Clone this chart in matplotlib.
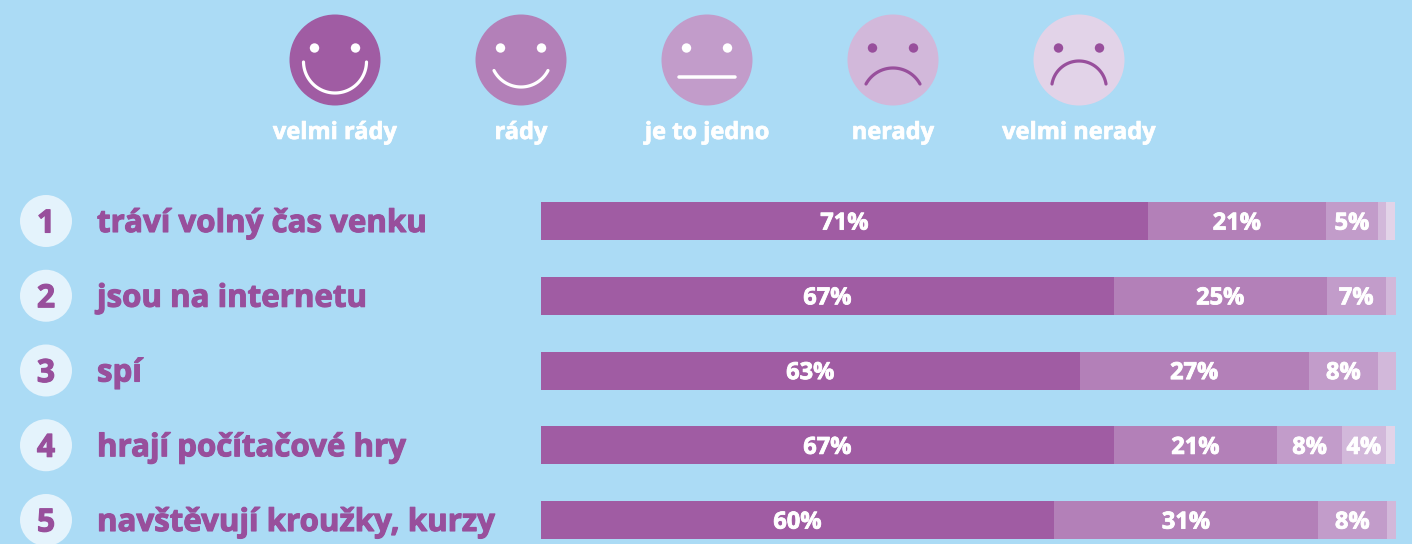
import numpy as np
import matplotlib
matplotlib.use("Agg")
import matplotlib.pyplot as plt
import matplotlib.patheffects as pe
from matplotlib.patches import Circle

W, H = 1412, 544
BG = "#ABDBF5"
PURPLE = "#984F9C"
FONT = "Open Sans"

categories = ["tráví volný čas venku", "jsou na internetu", "spí",
              "hrají počítačové hry", "navštěvují kroužky, kurzy"]
ranks = ["1", "2", "3", "4", "5"]
legend_labels = ["velmi rády", "rády", "je to jedno", "nerady", "velmi nerady"]
colors = ["#A05CA3", "#B380B8", "#C29CCA", "#D2B8DA", "#E2D3E8"]

# segment widths as drawn (percent)
velmi_rady = [71, 67, 63, 67, 60]
rady = [20.8, 24.9, 26.8, 19.1, 30.9]
jedno = [6.1, 6.9, 8.1, 7.6, 8]
nerady = [0.9, 1.2, 2.1, 5.1, 1.1]
velmi_nerady = [1.1, 0, 0, 1.1, 0]
series = [velmi_rady, rady, jedno, nerady, velmi_nerady]

# printed labels (percent text, None = no label)
label_rows = [
    ["71%", "21%", "5%", None, None],
    ["67%", "25%", "7%", None, None],
    ["63%", "27%", "8%", None, None],
    ["67%", "21%", "8%", "4%", None],
    ["60%", "31%", "8%", None, None],
]


def heavy(color, w=0.6):
    return [pe.withStroke(linewidth=w, foreground=color)]


fig = plt.figure(figsize=(W / 100, H / 100), dpi=100, facecolor=BG)

# pixel-space overlay for pictograms and row titles
deco = fig.add_axes([0, 0, 1, 1], facecolor="none")
deco.set_xlim(0, W)
deco.set_ylim(H, 0)
deco.axis("off")

# bar axes: x in percent, y in rows
row0, row_step = 221, 74.75
bar_left, bar_right = 541, 1396
ax = fig.add_axes([bar_left / W, 0, (bar_right - bar_left) / W, 1], facecolor="none")
ax.set_xlim(0, 100)
ax.set_ylim((H - row0) / row_step, -row0 / row_step)
ax.axis("off")

lw_px = 72 / 100
left = np.zeros(len(categories))
for s, values in enumerate(series):
    values = np.array(values, dtype=float)
    ax.barh(range(len(categories)), values, left=left, height=38 / row_step,
            color=colors[s], linewidth=0)
    for r, v in enumerate(values):
        t = label_rows[r][s]
        if t:
            ax.text(left[r] + v / 2, r + 0.035, t, ha="center", va="center",
                    color="white", fontsize=17, fontweight="bold", family=FONT,
                    path_effects=heavy("white"))
    left += values

# row titles and number badges
for r, (n, c) in enumerate(zip(ranks, categories)):
    y = row0 + r * row_step
    deco.add_patch(Circle((46, y), 26, fc="#E4F3FC", ec="none"))
    deco.text(46, y + 3, n, ha="center", va="center", color=PURPLE,
              fontsize=23, fontweight="bold", family=FONT,
              path_effects=heavy(PURPLE, 0.8))
    deco.text(97, y + 3, c, ha="left", va="center", color=PURPLE,
              fontsize=22.5, fontweight="bold", family=FONT,
              path_effects=heavy(PURPLE, 0.8))


def mouth(cx, chord_half, y_ends, y_apex, color):
    sag = y_apex - y_ends
    r = (chord_half ** 2 + sag ** 2) / (2 * abs(sag))
    cy = y_apex - np.sign(sag) * r
    a = np.arcsin(min(1, chord_half / r))
    th = np.linspace(-a, a, 80)
    deco.plot(cx + r * np.sin(th), cy + np.sign(sag) * r * np.cos(th),
              color=color, lw=3.2 * lw_px, solid_capstyle="round")


# legend pictograms
face_x = [335, 521, 707, 893, 1079]
ink = ["white", "white", "white", PURPLE, PURPLE]
mouths = [(31.5, 61, 93), (27, 70.5, 87), None, (27, 84, 68), (27, 84, 61)]
for x, col, k, m, lab in zip(face_x, colors, ink, mouths, legend_labels):
    deco.add_patch(Circle((x, 60), 45.5, fc=col, ec="none"))
    for dx in (-20.5, 20.5):
        deco.add_patch(Circle((x + dx, 48), 4.7, fc=k, ec="none"))
    if m:
        mouth(x, m[0], m[1], m[2], k)
    else:
        deco.plot([x - 28, x + 28], [77, 77], color=k, lw=3.5 * lw_px,
                  solid_capstyle="round")
    deco.text(x, 133, lab, ha="center", va="center", color="white",
              fontsize=17, fontweight="bold", family=FONT,
              path_effects=heavy("white", 0.5))

fig.savefig("out.png", dpi=100, facecolor=BG)
